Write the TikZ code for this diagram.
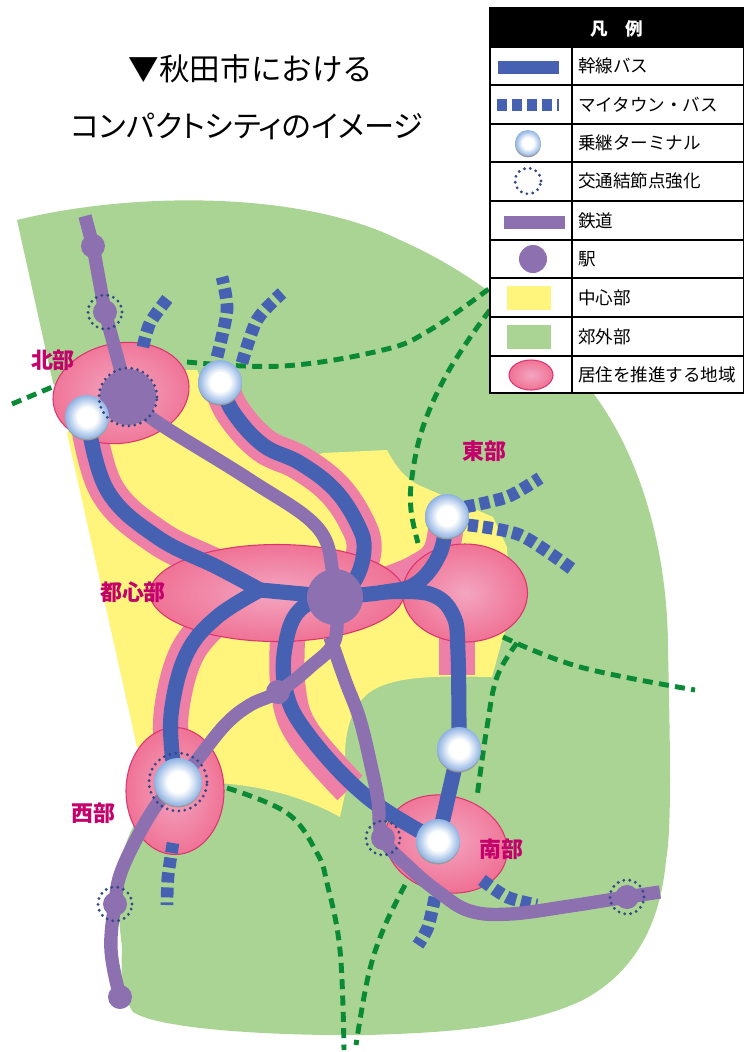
\documentclass[tikz,border=0pt]{standalone}
\usepackage{fontspec}
\setmainfont{Noto Sans CJK JP}
\newfontfamily\propfont[RawFeature=+palt]{Noto Sans CJK JP}
\usetikzlibrary{shapes.geometric}
\definecolor{areagreen}{HTML}{AAD494}
\definecolor{areayellow}{HTML}{FFF57C}
\definecolor{bandpink}{HTML}{EE7FA6}
\definecolor{bandedge}{HTML}{D9356F}
\definecolor{busblue}{HTML}{4661B2}
\definecolor{railpurple}{HTML}{8C70B0}
\definecolor{bordergreen}{HTML}{0A8A35}
\definecolor{namepink}{HTML}{C4006A}
\definecolor{termblue}{HTML}{8FB2E2}
\pgfdeclareradialshading{termball}{\pgfpointorigin}{color(0bp)=(white);color(11bp)=(white);color(25bp)=(termblue);color(50bp)=(termblue)}
\tikzset{
  mapnode/.style={inner sep=0pt,outer sep=0pt},
  zone/.style={mapnode,ellipse,draw=bandedge,line width=0.6pt,shading=radial,inner color=bandpink!70!white,outer color=bandpink!90!red},
  terminal/.style={mapnode,circle,minimum size=#1*0.02cm,preaction={fill=gray!80,transform canvas={yshift=-0.8pt}},shading=termball},
  terminal/.default=44,
  station/.style={mapnode,circle,fill=railpurple,minimum size=#1*0.02cm},
  station/.default=24,
  hub/.style={mapnode,circle,minimum size=#1*0.02cm,draw=busblue!75!black,line width=1.8pt,line cap=round,dash pattern=on 0pt off 3.4pt},
  hub/.default=34,
  busline/.style={busblue,line width=8.6pt,line join=round,smooth,tension=0.65},
  bandline/.style={bandpink,line width=20pt,line join=round,smooth,tension=0.65},
  myline/.style={busblue,line width=7.2pt,smooth,dash pattern=on 5.7pt off 2.8pt},
  railline/.style={railpurple,line width=7.6pt,line join=round,smooth,tension=0.65},
  borderline/.style={bordergreen,line width=2.8pt,smooth,tension=0.65,dash pattern=on 5.7pt off 3.6pt},
  areaname/.style={mapnode,text=namepink,font=\fontsize{12.5}{14}\selectfont\bfseries},
  legendlabel/.style={mapnode,anchor=west,font=\fontsize{10}{12}\selectfont},
  legendswatch/.style={mapnode,rectangle,minimum width=#1*0.02cm}
}
\begin{document}
\begin{tikzpicture}[x=0.02cm,y=-0.02cm]
  \useasboundingbox (0,0) rectangle (744,1052);
  % areas
  \fill[areagreen] (17,220) .. controls (130,192) and (300,190) .. (400,240)
    .. controls (480,275) and (550,335) .. (593,393)
    .. controls (640,455) and (668,550) .. (668,650)
    .. controls (670,740) and (672,830) .. (666,860)
    .. controls (660,930) and (630,975) .. (583,1000)
    .. controls (520,1030) and (430,1033) .. (367,1035)
    .. controls (280,1036) and (160,1030) .. (133,1012)
    .. controls (118,990) and (122,960) .. (122,947)
    .. controls (116,900) and (116,860) .. (133,827) -- (160,760) -- (100,433) -- (53,383) -- cycle;
  \fill[areayellow] (67,433) -- (120,370) -- (197,370) -- (210,400) -- (290,465) -- (323,453) -- (387,450)
    .. controls (395,465) and (405,480) .. (423,487) -- (493,517) -- (507,547)
    -- (510,620) -- (503,637) -- (492,677)
    .. controls (440,676) and (395,675) .. (370,692)
    .. controls (345,710) and (342,750) .. (347,785) -- (340,817)
    .. controls (310,800) and (265,785) .. (215,783) -- (137,747) -- cycle;
  % positions of the stops
  \coordinate (termnorth) at (87,417);
  \coordinate (termnorthb) at (220,382);
  \coordinate (termeast) at (447,516);
  \coordinate (termwest) at (178,782);
  \coordinate (termmid) at (459,749);
  \coordinate (termsouth) at (438,841);
  \coordinate (stacentre) at (335,597);
  \coordinate (stanorth) at (128,397);
  \coordinate (statop) at (93,246);
  \coordinate (stahub) at (105,312);
  \coordinate (stajoin) at (278,692);
  \coordinate (stariver) at (383,838);
  \coordinate (stawest) at (115,904);
  \coordinate (staend) at (120,997);
  \coordinate (staeast) at (627,897);
  \coordinate (forkwest) at (260,590);
  \coordinate (forkeast) at (385,592);
  \coordinate (railtop) at (85,216);
  \coordinate (railend) at (660,892);
  % pink belts along the trunk lines
  \draw[bandline] plot coordinates {(termnorth) (107,490) (157,537) (217,567) (260,590)};
  \draw[bandline] plot coordinates {(termnorthb) (233,412) (263,445) (300,463) (335,490) (358,525) (364,550) (355,580)};
  \draw[bandline] plot coordinates {(termwest) (172,753) (172,707) (187,653) (217,617) (240,600)};
  \draw[bandline] plot coordinates {(288,630) (288,687) (302,732) (350,788)};
  \draw[bandline] plot coordinates {(termeast) (440,553) (417,572) (385,585)};
  \draw[bandline] (457,625) -- (457,675);
  % borders between the districts
  \draw[borderline] plot coordinates {(12,404) (57,385)};
  \draw[borderline] plot coordinates {(187,362) (283,366) (383,350) (430,330) (490,288)};
  \draw[borderline] plot coordinates {(490,310) (467,342) (442,383) (422,430) (412,477) (411,510) (418,543)};
  \draw[borderline] plot coordinates {(503,637) (580,667) (695,690)};
  \draw[borderline] plot coordinates {(517,643) (497,677) (487,727) (477,797)};
  \draw[borderline] plot coordinates {(227,788) (287,813) (317,853) (327,883) (340,950) (344,1050)};
  \draw[borderline] plot coordinates {(405,885) (383,930) (368,977) (356,1045)};
  % districts
  \node[zone,rotate=10,minimum width=137*0.02cm,minimum height=100*0.02cm] (zonenorth) at (121,393) {};
  \node[zone,minimum width=254*0.02cm,minimum height=97*0.02cm] (zonecentre) at (277,593) {};
  \node[zone,minimum width=125*0.02cm,minimum height=98*0.02cm] (zoneeast) at (465,593) {};
  \node[zone,minimum width=98*0.02cm,minimum height=127*0.02cm] (zonewest) at (175,791) {};
  \node[zone,rotate=-15,minimum width=124*0.02cm,minimum height=96*0.02cm] (zonesouth) at (446,844) {};
  % my town bus
  \draw[myline] plot coordinates {(143,347) (150,323) (168,298)};
  \draw[myline] plot coordinates {(217,357) (227,310) (222,277)};
  \draw[myline] plot coordinates {(242,363) (257,320) (282,293)};
  \draw[myline] plot coordinates {(173,843) (168,877) (167,905)};
  \draw[myline] plot coordinates {(435,897) (428,927) (418,945)};
  \draw[myline] plot coordinates {(482,880) (507,897) (537,905)};
  \draw[myline] plot coordinates {(465,507) (507,497) (540,478)};
  \draw[myline] plot coordinates {(468,525) (520,535) (572,569)};
  % trunk bus
  \draw[busline] plot coordinates {(termnorth) (107,490) (157,537) (217,567) (forkwest)};
  \draw[busline] (forkwest) -- (stacentre);
  \draw[busline] plot coordinates {(termnorthb) (233,412) (263,445) (300,463) (335,490) (358,525) (364,550) (355,580) (stacentre)};
  \draw[busline] plot coordinates {(termwest) (172,753) (172,707) (187,653) (217,617) (forkwest)};
  \draw[busline] plot coordinates {(stacentre) (303,607) (287,637) (285,687) (307,733) (367,797) (termsouth)};
  \draw[busline] plot coordinates {(stacentre) (forkeast) (417,583) (440,553) (termeast)};
  \draw[busline] plot coordinates {(forkeast) (430,594) (453,615) (458,653) (termmid)};
  \draw[busline] (termmid) -- (termsouth);
  % railway
  \draw[railline] (railtop) -- (statop) -- (stahub) -- (stanorth);
  \draw[railline] plot coordinates {(stanorth) (157,422) (250,480) (317,527) (333,573) (stacentre)};
  \draw[railline] plot coordinates {(stacentre) (335,640) (310,667) (stajoin) (250,705) (225,725) (197,760) (termwest)};
  \draw[railline] plot coordinates {(termwest) (153,810) (123,867) (stawest) (111,950) (staend)};
  \draw[railline] plot coordinates {(330,637) (345,680) (360,720) (372,770) (378,800) (stariver) (410,868) (440,893) (470,911) (510,914) (570,906) (staeast) (railend)};
  % stations and terminals
  \node[station=56] (nodecentre) at (stacentre) {};
  \node[station=56] (nodenorth) at (stanorth) {};
  \node[station] (nodetop) at (statop) {};
  \node[station] (nodehub) at (stahub) {};
  \node[station] (nodejoin) at (stajoin) {};
  \node[station] (noderiver) at (stariver) {};
  \node[station] (nodewest) at (stawest) {};
  \node[station] (nodeend) at (staend) {};
  \node[station] (nodeeast) at (staeast) {};
  \node[terminal] (boxnorth) at (termnorth) {};
  \node[terminal] (boxnorthb) at (termnorthb) {};
  \node[terminal] (boxeast) at (termeast) {};
  \node[terminal=48] (boxwest) at (termwest) {};
  \node[terminal] (boxmid) at (termmid) {};
  \node[terminal] (boxsouth) at (termsouth) {};
  \node[hub=58] (hubnorth) at (stanorth) {};
  \node[hub=58] (hubwest) at (termwest) {};
  \node[hub] (hubtop) at (stahub) {};
  \node[hub] (hubriver) at (stariver) {};
  \node[hub] (hubsouth) at (stawest) {};
  \node[hub] (hubeast) at (staeast) {};
  % names
  \node[areaname] (namenorth) at (53,360) {北部};
  \node[areaname] (nameeast) at (484,451) {東部};
  \node[areaname] (namecentre) at (133,592) {都心部};
  \node[areaname] (namewest) at (93,813) {西部};
  \node[areaname] (namesouth) at (501,849) {南部};
  % title
  \node[mapnode,font=\fontsize{17.4}{20}\selectfont] (titlea) at (251,69) {▼秋田市における};
  \node[mapnode,font=\fontsize{17.2}{20}\selectfont\propfont] (titleb) at (247,126) {コンパクトシティのイメージ};
  % legend
  \fill[white] (490,8) rectangle (744,393);
  \fill[black] (490,8) rectangle (744,48);
  \node[mapnode,text=white,font=\fontsize{10}{12}\selectfont\bfseries] (legendhead) at (617,29) {凡\hspace{1em}例};
  \foreach \i/\y/\txt in {1/66/幹線バス,2/105/マイタウン・バス,3/143/乗継ターミナル,4/181/交通結節点強化,5/221/鉄道,6/259/駅,7/298/中心部,8/337/郊外部,9/375/居住を推進する地域}
    \node[legendlabel] (legendtext\i) at (578,\y) {\txt};
  \foreach \y in {85,124,162,201,240,278,317,356}
    \draw[line width=1.1pt] (490,\y) -- (744,\y);
  \draw[line width=0.9pt] (490,8) rectangle (744,393);
  \draw[line width=0.9pt] (572,48) -- (572,393);
  \node[legendswatch=61,fill=busblue,minimum height=13*0.02cm] (swatchbus) at (528,67) {};
  \draw[myline] (497,105) -- (559,105);
  \node[terminal=26] (swatchterm) at (528,143) {};
  \node[hub=26] (swatchhub) at (528,181) {};
  \node[legendswatch=61,fill=railpurple,minimum height=13*0.02cm] (swatchrail) at (534,222) {};
  \node[station=28] (swatchsta) at (533,259) {};
  \node[legendswatch=44,fill=areayellow,minimum height=24*0.02cm] (swatchcore) at (529,298) {};
  \node[legendswatch=44,fill=areagreen,minimum height=24*0.02cm] (swatchout) at (529,337) {};
  \node[zone,minimum width=44*0.02cm,minimum height=30*0.02cm] (swatchzone) at (531,375) {};
\end{tikzpicture}
\end{document}
